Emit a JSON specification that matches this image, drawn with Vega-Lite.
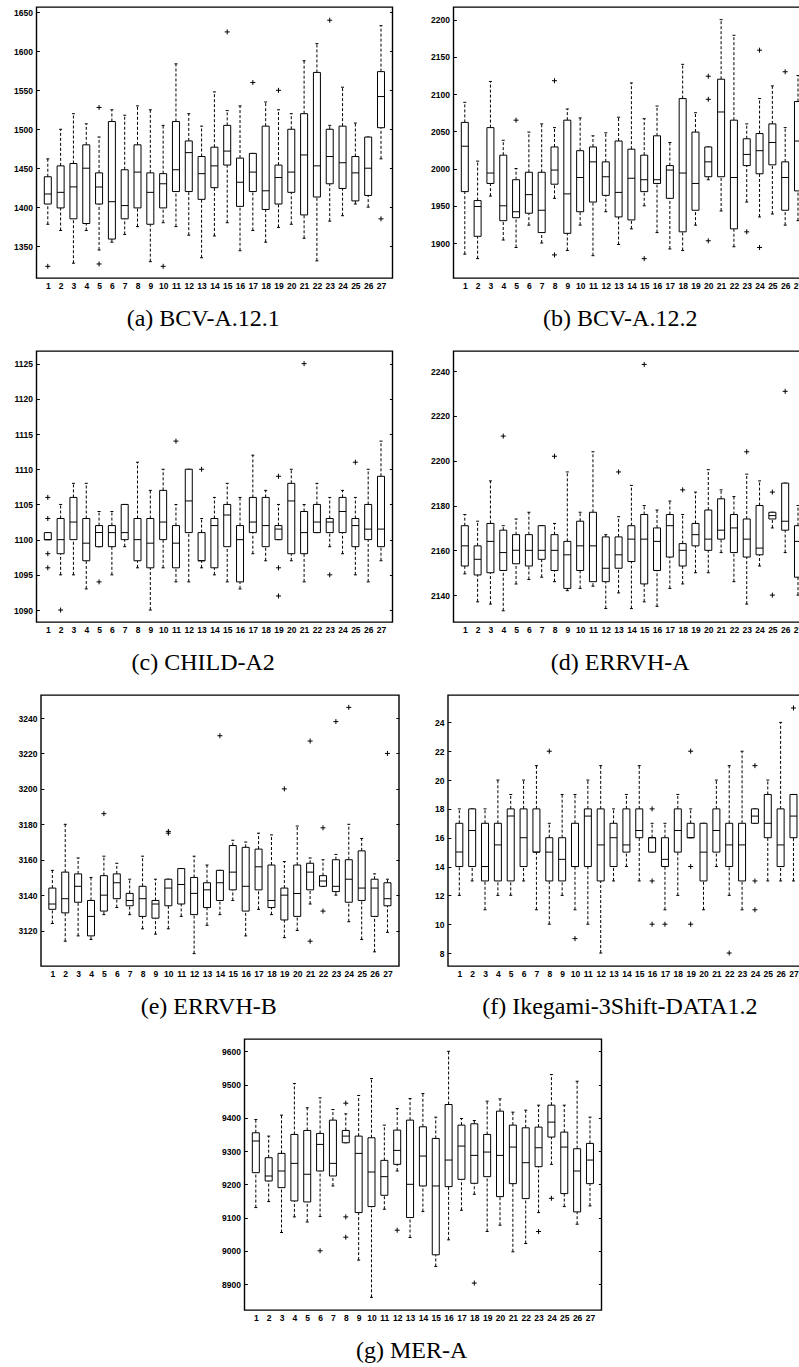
{
"$schema":"https://vega.github.io/schema/vega-lite/v6.json",
"background":"white",
"padding":{"left":12,"top":6,"right":0,"bottom":0},
"config":{
 "view":{"stroke":"#000","strokeWidth":1.4},
 "axis":{"labelFont":"Liberation Sans","labelFontWeight":"bold","labelFontSize":8.5,"labelColor":"#000","tickColor":"#000","grid":false,"domain":false}
},
"datasets":{
"a":[
{"i":1,"lo":1378,"q1":1404,"m":1417,"q3":1439,"hi":1462},
{"i":2,"lo":1370,"q1":1399,"m":1419,"q3":1453,"hi":1500},
{"i":3,"lo":1328,"q1":1385,"m":1426,"q3":1456,"hi":1520},
{"i":4,"lo":1370,"q1":1379,"m":1450,"q3":1480,"hi":1507},
{"i":5,"lo":1345,"q1":1404,"m":1426,"q3":1444,"hi":1490},
{"i":6,"lo":1355,"q1":1359,"m":1407,"q3":1510,"hi":1525},
{"i":7,"lo":1365,"q1":1385,"m":1402,"q3":1448,"hi":1518},
{"i":8,"lo":1375,"q1":1399,"m":1445,"q3":1480,"hi":1530},
{"i":9,"lo":1330,"q1":1378,"m":1419,"q3":1444,"hi":1525},
{"i":10,"lo":1380,"q1":1399,"m":1430,"q3":1443,"hi":1505},
{"i":11,"lo":1375,"q1":1420,"m":1448,"q3":1510,"hi":1584},
{"i":12,"lo":1364,"q1":1420,"m":1470,"q3":1485,"hi":1520},
{"i":13,"lo":1335,"q1":1410,"m":1443,"q3":1465,"hi":1504},
{"i":14,"lo":1363,"q1":1425,"m":1453,"q3":1477,"hi":1548},
{"i":15,"lo":1380,"q1":1454,"m":1472,"q3":1505,"hi":1524},
{"i":16,"lo":1344,"q1":1401,"m":1432,"q3":1463,"hi":1530},
{"i":17,"lo":1370,"q1":1420,"m":1445,"q3":1469,"hi":1469},
{"i":18,"lo":1355,"q1":1397,"m":1421,"q3":1504,"hi":1535},
{"i":19,"lo":1374,"q1":1404,"m":1438,"q3":1454,"hi":1525},
{"i":20,"lo":1378,"q1":1419,"m":1445,"q3":1500,"hi":1520},
{"i":21,"lo":1360,"q1":1390,"m":1467,"q3":1520,"hi":1588},
{"i":22,"lo":1331,"q1":1413,"m":1453,"q3":1573,"hi":1610},
{"i":23,"lo":1382,"q1":1430,"m":1465,"q3":1500,"hi":1505},
{"i":24,"lo":1389,"q1":1424,"m":1457,"q3":1504,"hi":1554},
{"i":25,"lo":1404,"q1":1408,"m":1444,"q3":1465,"hi":1508},
{"i":26,"lo":1400,"q1":1415,"m":1450,"q3":1490,"hi":1490},
{"i":27,"lo":1462,"q1":1502,"m":1542,"q3":1574,"hi":1633}],
"ao":[{"i":1,"v":1324},{"i":5,"v":1528},{"i":5,"v":1327},{"i":10,"v":1324},{"i":15,"v":1625},{"i":17,"v":1560},{"i":19,"v":1550},{"i":23,"v":1640},{"i":27,"v":1385}],
"b":[
{"i":1,"lo":1885,"q1":1969,"m":2030,"q3":2062,"hi":2089},
{"i":2,"lo":1879,"q1":1909,"m":1949,"q3":1957,"hi":2010},
{"i":3,"lo":1963,"q1":1980,"m":1994,"q3":2055,"hi":2117},
{"i":4,"lo":1904,"q1":1930,"m":1950,"q3":2018,"hi":2038},
{"i":5,"lo":1894,"q1":1934,"m":1942,"q3":1985,"hi":2000},
{"i":6,"lo":1924,"q1":1940,"m":1965,"q3":1995,"hi":2049},
{"i":7,"lo":1900,"q1":1914,"m":1944,"q3":1995,"hi":2060},
{"i":8,"lo":1960,"q1":1979,"m":1998,"q3":2029,"hi":2055},
{"i":9,"lo":1890,"q1":1913,"m":1966,"q3":2065,"hi":2080},
{"i":10,"lo":1924,"q1":1942,"m":1988,"q3":2024,"hi":2068},
{"i":11,"lo":1883,"q1":1955,"m":2009,"q3":2029,"hi":2044},
{"i":12,"lo":1942,"q1":1964,"m":1989,"q3":2009,"hi":2048},
{"i":13,"lo":1898,"q1":1935,"m":1968,"q3":2037,"hi":2069},
{"i":14,"lo":1919,"q1":1931,"m":1987,"q3":2026,"hi":2115},
{"i":15,"lo":1950,"q1":1969,"m":1985,"q3":2018,"hi":2067},
{"i":16,"lo":1914,"q1":1980,"m":1985,"q3":2044,"hi":2084},
{"i":17,"lo":1892,"q1":1960,"m":1998,"q3":2004,"hi":2035},
{"i":18,"lo":1890,"q1":1915,"m":1994,"q3":2094,"hi":2140},
{"i":19,"lo":1924,"q1":1944,"m":1980,"q3":2049,"hi":2075},
{"i":20,"lo":1985,"q1":1989,"m":2009,"q3":2029,"hi":2029},
{"i":21,"lo":1943,"q1":1989,"m":2076,"q3":2120,"hi":2200},
{"i":22,"lo":1895,"q1":1919,"m":1988,"q3":2065,"hi":2179},
{"i":23,"lo":1955,"q1":2004,"m":2019,"q3":2040,"hi":2060},
{"i":24,"lo":1935,"q1":1993,"m":2024,"q3":2047,"hi":2094},
{"i":25,"lo":1939,"q1":2005,"m":2035,"q3":2060,"hi":2111},
{"i":26,"lo":1924,"q1":1944,"m":1988,"q3":2009,"hi":2055},
{"i":27,"lo":1930,"q1":1970,"m":2037,"q3":2090,"hi":2125}],
"bo":[{"i":5,"v":2065},{"i":8,"v":2118},{"i":8,"v":1884},{"i":15,"v":1879},{"i":20,"v":2124},{"i":20,"v":2093},{"i":20,"v":1903},{"i":23,"v":1915},{"i":24,"v":2159},{"i":24,"v":1894},{"i":26,"v":2130}],
"c":[
{"i":1,"lo":1100,"q1":1100,"m":1100,"q3":1101,"hi":1101},
{"i":2,"lo":1095,"q1":1098,"m":1100,"q3":1103,"hi":1105},
{"i":3,"lo":1095,"q1":1100,"m":1102.5,"q3":1106,"hi":1108},
{"i":4,"lo":1093,"q1":1097,"m":1099.5,"q3":1103,"hi":1108},
{"i":5,"lo":1099,"q1":1099,"m":1101,"q3":1102,"hi":1104},
{"i":6,"lo":1095,"q1":1099,"m":1101,"q3":1102,"hi":1104},
{"i":7,"lo":1099,"q1":1100,"m":1101,"q3":1105,"hi":1105},
{"i":8,"lo":1096,"q1":1097,"m":1100,"q3":1103,"hi":1111},
{"i":9,"lo":1090,"q1":1096,"m":1099.5,"q3":1103,"hi":1107},
{"i":10,"lo":1096,"q1":1100,"m":1102.5,"q3":1107,"hi":1110},
{"i":11,"lo":1094,"q1":1096,"m":1099.5,"q3":1102,"hi":1105},
{"i":12,"lo":1094,"q1":1101,"m":1105.5,"q3":1110,"hi":1110},
{"i":13,"lo":1096,"q1":1097,"m":1097,"q3":1101,"hi":1103},
{"i":14,"lo":1095,"q1":1096,"m":1102,"q3":1103,"hi":1106},
{"i":15,"lo":1094,"q1":1099,"m":1103.5,"q3":1105,"hi":1108},
{"i":16,"lo":1093,"q1":1094,"m":1100,"q3":1102,"hi":1106},
{"i":17,"lo":1098,"q1":1101,"m":1102.5,"q3":1106,"hi":1112},
{"i":18,"lo":1097,"q1":1099,"m":1102,"q3":1106,"hi":1107},
{"i":19,"lo":1100,"q1":1100,"m":1101.5,"q3":1102,"hi":1105},
{"i":20,"lo":1097,"q1":1098,"m":1105.5,"q3":1108,"hi":1110},
{"i":21,"lo":1094,"q1":1098,"m":1101,"q3":1104,"hi":1105},
{"i":22,"lo":1101,"q1":1101,"m":1102.5,"q3":1105,"hi":1108},
{"i":23,"lo":1099,"q1":1101,"m":1102.5,"q3":1103,"hi":1106},
{"i":24,"lo":1098,"q1":1101,"m":1104,"q3":1106,"hi":1107},
{"i":25,"lo":1095,"q1":1099,"m":1102,"q3":1103,"hi":1106},
{"i":26,"lo":1094,"q1":1100,"m":1101.5,"q3":1105,"hi":1110},
{"i":27,"lo":1097,"q1":1099,"m":1101.5,"q3":1109,"hi":1114}],
"co":[{"i":1,"v":1106},{"i":1,"v":1103},{"i":1,"v":1098},{"i":1,"v":1096},{"i":2,"v":1090},{"i":5,"v":1094},{"i":11,"v":1114},{"i":13,"v":1110},{"i":19,"v":1109},{"i":19,"v":1096},{"i":19,"v":1092},{"i":21,"v":1125},{"i":23,"v":1095},{"i":25,"v":1111}],
"d":[
{"i":1,"lo":2149.5,"q1":2153,"m":2162,"q3":2171,"hi":2176},
{"i":2,"lo":2137,"q1":2149,"m":2156,"q3":2162,"hi":2173},
{"i":3,"lo":2136,"q1":2150,"m":2164,"q3":2172,"hi":2191},
{"i":4,"lo":2133,"q1":2151,"m":2159,"q3":2169,"hi":2171},
{"i":5,"lo":2145,"q1":2154,"m":2160,"q3":2167,"hi":2174},
{"i":6,"lo":2147,"q1":2153,"m":2160,"q3":2167,"hi":2177},
{"i":7,"lo":2148,"q1":2156,"m":2160,"q3":2171,"hi":2171},
{"i":8,"lo":2146,"q1":2151,"m":2160,"q3":2167,"hi":2172},
{"i":9,"lo":2142,"q1":2143,"m":2158,"q3":2164,"hi":2195},
{"i":10,"lo":2143,"q1":2151,"m":2162,"q3":2173,"hi":2177},
{"i":11,"lo":2144,"q1":2146,"m":2162,"q3":2177,"hi":2204},
{"i":12,"lo":2134,"q1":2146,"m":2152,"q3":2166,"hi":2167},
{"i":13,"lo":2141,"q1":2152,"m":2158,"q3":2166,"hi":2175},
{"i":14,"lo":2134,"q1":2155,"m":2165,"q3":2171,"hi":2189},
{"i":15,"lo":2137,"q1":2145,"m":2165,"q3":2176,"hi":2180},
{"i":16,"lo":2135,"q1":2151,"m":2164,"q3":2170,"hi":2178},
{"i":17,"lo":2143,"q1":2157,"m":2171,"q3":2176,"hi":2182},
{"i":18,"lo":2145,"q1":2153,"m":2160,"q3":2163,"hi":2176},
{"i":19,"lo":2150,"q1":2162,"m":2167,"q3":2172,"hi":2186},
{"i":20,"lo":2150,"q1":2160,"m":2165,"q3":2178,"hi":2196},
{"i":21,"lo":2159,"q1":2165,"m":2169,"q3":2183,"hi":2187},
{"i":22,"lo":2146,"q1":2159,"m":2170,"q3":2176,"hi":2184},
{"i":23,"lo":2136,"q1":2157,"m":2165,"q3":2174,"hi":2194},
{"i":24,"lo":2153,"q1":2158,"m":2161,"q3":2180,"hi":2191},
{"i":25,"lo":2170,"q1":2174,"m":2175.5,"q3":2177,"hi":2177},
{"i":26,"lo":2159,"q1":2169,"m":2173,"q3":2190,"hi":2190},
{"i":27,"lo":2140,"q1":2148,"m":2164,"q3":2171,"hi":2180}],
"do":[{"i":4,"v":2211},{"i":8,"v":2202},{"i":13,"v":2195},{"i":15,"v":2243},{"i":18,"v":2187},{"i":23,"v":2204},{"i":25,"v":2186},{"i":25,"v":2140},{"i":26,"v":2231}],
"e":[
{"i":1,"lo":3124,"q1":3132,"m":3135,"q3":3144,"hi":3154},
{"i":2,"lo":3114,"q1":3130,"m":3138,"q3":3153,"hi":3180},
{"i":3,"lo":3117,"q1":3136,"m":3145,"q3":3152,"hi":3161},
{"i":4,"lo":3115,"q1":3117,"m":3128,"q3":3137,"hi":3150},
{"i":5,"lo":3129,"q1":3131,"m":3140,"q3":3151,"hi":3162},
{"i":6,"lo":3133,"q1":3138,"m":3147,"q3":3152,"hi":3158},
{"i":7,"lo":3129,"q1":3134,"m":3137,"q3":3141,"hi":3149},
{"i":8,"lo":3121,"q1":3128,"m":3138,"q3":3145,"hi":3162},
{"i":9,"lo":3118,"q1":3127,"m":3135,"q3":3137,"hi":3149},
{"i":10,"lo":3121,"q1":3134,"m":3144,"q3":3149,"hi":3149},
{"i":11,"lo":3128,"q1":3135,"m":3146,"q3":3155,"hi":3155},
{"i":12,"lo":3107,"q1":3129,"m":3141,"q3":3150,"hi":3162},
{"i":13,"lo":3123,"q1":3133,"m":3143,"q3":3147,"hi":3157},
{"i":14,"lo":3129,"q1":3137,"m":3147,"q3":3154,"hi":3154},
{"i":15,"lo":3137,"q1":3143,"m":3153,"q3":3168,"hi":3171},
{"i":16,"lo":3117,"q1":3131,"m":3145,"q3":3167,"hi":3170},
{"i":17,"lo":3132,"q1":3143,"m":3156,"q3":3166,"hi":3175},
{"i":18,"lo":3129,"q1":3133,"m":3137,"q3":3157,"hi":3174},
{"i":19,"lo":3116,"q1":3126,"m":3140,"q3":3144,"hi":3159},
{"i":20,"lo":3120,"q1":3128,"m":3141,"q3":3157,"hi":3179},
{"i":21,"lo":3135,"q1":3143,"m":3153,"q3":3158,"hi":3161},
{"i":22,"lo":3145,"q1":3145,"m":3148,"q3":3151,"hi":3160},
{"i":23,"lo":3140,"q1":3142,"m":3145,"q3":3160,"hi":3163},
{"i":24,"lo":3125,"q1":3136,"m":3149,"q3":3160,"hi":3180},
{"i":25,"lo":3115,"q1":3137,"m":3144,"q3":3165,"hi":3172},
{"i":26,"lo":3108,"q1":3128,"m":3144,"q3":3149,"hi":3152},
{"i":27,"lo":3119,"q1":3134,"m":3138,"q3":3147,"hi":3149}],
"eo":[{"i":5,"v":3186},{"i":10,"v":3176},{"i":10,"v":3175},{"i":14,"v":3230},{"i":19,"v":3200},{"i":21,"v":3227},{"i":21,"v":3114},{"i":22,"v":3178},{"i":22,"v":3131},{"i":23,"v":3238},{"i":24,"v":3246},{"i":27,"v":3220}],
"f":[
{"i":1,"lo":12,"q1":14,"m":15,"q3":17,"hi":18},
{"i":2,"lo":13,"q1":14,"m":16.5,"q3":18,"hi":18},
{"i":3,"lo":11,"q1":13,"m":14,"q3":17,"hi":18},
{"i":4,"lo":12,"q1":13,"m":15.5,"q3":17,"hi":20},
{"i":5,"lo":12,"q1":13,"m":17.5,"q3":18,"hi":19},
{"i":6,"lo":13,"q1":14,"m":16,"q3":18,"hi":20},
{"i":7,"lo":11,"q1":15,"m":15,"q3":18,"hi":21},
{"i":8,"lo":10,"q1":13,"m":15,"q3":16,"hi":17},
{"i":9,"lo":12,"q1":13,"m":14.5,"q3":16,"hi":19},
{"i":10,"lo":11,"q1":14,"m":14,"q3":17,"hi":19},
{"i":11,"lo":10,"q1":14,"m":17.5,"q3":18,"hi":20},
{"i":12,"lo":8,"q1":13,"m":15.5,"q3":18,"hi":21},
{"i":13,"lo":13,"q1":14,"m":16,"q3":17,"hi":18},
{"i":14,"lo":14,"q1":15,"m":15.5,"q3":18,"hi":19},
{"i":15,"lo":13,"q1":16,"m":16.5,"q3":18,"hi":21},
{"i":16,"lo":15,"q1":15,"m":16,"q3":16,"hi":17},
{"i":17,"lo":11,"q1":14,"m":14.5,"q3":16,"hi":17},
{"i":18,"lo":12,"q1":15,"m":16.5,"q3":18,"hi":19},
{"i":19,"lo":16,"q1":16,"m":16,"q3":17,"hi":18},
{"i":20,"lo":11,"q1":13,"m":15,"q3":17,"hi":17},
{"i":21,"lo":14,"q1":15,"m":16.5,"q3":18,"hi":20},
{"i":22,"lo":12,"q1":14,"m":15.5,"q3":17,"hi":21},
{"i":23,"lo":11,"q1":13,"m":15.5,"q3":17,"hi":22},
{"i":24,"lo":17,"q1":17,"m":17.5,"q3":18,"hi":18},
{"i":25,"lo":13,"q1":16,"m":17,"q3":19,"hi":20},
{"i":26,"lo":13,"q1":14,"m":15.5,"q3":18,"hi":24},
{"i":27,"lo":13,"q1":16,"m":17.5,"q3":19,"hi":19}],
"fo":[{"i":8,"v":22},{"i":10,"v":9},{"i":16,"v":18},{"i":16,"v":13},{"i":16,"v":10},{"i":17,"v":10},{"i":19,"v":22},{"i":19,"v":14},{"i":19,"v":10},{"i":22,"v":8},{"i":24,"v":21},{"i":24,"v":13},{"i":24,"v":11},{"i":27,"v":25}],
"g":[
{"i":1,"lo":9130,"q1":9235,"m":9330,"q3":9355,"hi":9395},
{"i":2,"lo":9148,"q1":9210,"m":9225,"q3":9280,"hi":9345},
{"i":3,"lo":9055,"q1":9190,"m":9240,"q3":9293,"hi":9408},
{"i":4,"lo":9102,"q1":9150,"m":9263,"q3":9350,"hi":9503},
{"i":5,"lo":9087,"q1":9147,"m":9230,"q3":9362,"hi":9430},
{"i":6,"lo":9103,"q1":9240,"m":9320,"q3":9353,"hi":9460},
{"i":7,"lo":9195,"q1":9225,"m":9263,"q3":9393,"hi":9425},
{"i":8,"lo":9325,"q1":9325,"m":9345,"q3":9362,"hi":9412},
{"i":9,"lo":8972,"q1":9115,"m":9293,"q3":9345,"hi":9467},
{"i":10,"lo":8860,"q1":9133,"m":9237,"q3":9340,"hi":9518},
{"i":11,"lo":9125,"q1":9167,"m":9223,"q3":9272,"hi":9378},
{"i":12,"lo":9240,"q1":9260,"m":9302,"q3":9363,"hi":9428},
{"i":13,"lo":9040,"q1":9100,"m":9200,"q3":9393,"hi":9458},
{"i":14,"lo":9118,"q1":9195,"m":9285,"q3":9373,"hi":9473},
{"i":15,"lo":8953,"q1":8988,"m":9195,"q3":9338,"hi":9402},
{"i":16,"lo":9033,"q1":9193,"m":9273,"q3":9440,"hi":9600},
{"i":17,"lo":9122,"q1":9215,"m":9315,"q3":9378,"hi":9398},
{"i":18,"lo":9170,"q1":9203,"m":9287,"q3":9382,"hi":9392},
{"i":19,"lo":9058,"q1":9223,"m":9297,"q3":9350,"hi":9450},
{"i":20,"lo":9077,"q1":9163,"m":9287,"q3":9420,"hi":9457},
{"i":21,"lo":8997,"q1":9202,"m":9312,"q3":9378,"hi":9417},
{"i":22,"lo":9022,"q1":9157,"m":9265,"q3":9370,"hi":9423},
{"i":23,"lo":9115,"q1":9253,"m":9310,"q3":9372,"hi":9438},
{"i":24,"lo":9260,"q1":9342,"m":9387,"q3":9438,"hi":9530},
{"i":25,"lo":9133,"q1":9172,"m":9312,"q3":9357,"hi":9438},
{"i":26,"lo":9080,"q1":9117,"m":9240,"q3":9307,"hi":9510},
{"i":27,"lo":9135,"q1":9202,"m":9273,"q3":9323,"hi":9402}],
"go":[{"i":6,"v":9000},{"i":8,"v":9444},{"i":8,"v":9102},{"i":8,"v":9041},{"i":12,"v":9062},{"i":18,"v":8903},{"i":23,"v":9058},{"i":24,"v":9158}]
},
"vconcat":[
{"hconcat":[
{"width":356,"height":271,
"title":{"text":"(a) BCV-A.12.1","orient":"bottom","font":"Liberation Serif","fontSize":24,"fontWeight":"normal","anchor":"middle","frame":"bounds","offset":17,"color":"#000"},
"encoding":{"x":{"field":"i","type":"quantitative","scale":{"domain":[0.5,27.5],"nice":false,"zero":false},"axis":{"values":[1,2,3,4,5,6,7,8,9,10,11,12,13,14,15,16,17,18,19,20,21,22,23,24,25,26,27],"ticks":false,"labelPadding":3,"labelOverlap":false,"labelFlush":false,"title":null,"format":"d"}}},
"layer":[
{"data":{"name":"a"},"mark":{"type":"rule","strokeDash":[3,2],"color":"#000"},"encoding":{"y":{"field":"lo","type":"quantitative","scale":{"domain":[1309,1657],"nice":false,"zero":false},"axis":{"orient":"left","values":[1350,1400,1450,1500,1550,1600,1650],"format":"d","tickSize":-3,"labelPadding":7,"title":null}},"y2":{"field":"q1"}}},
{"data":{"name":"a"},"mark":{"type":"rule","strokeDash":[3,2],"color":"#000"},"encoding":{"y":{"field":"q3","type":"quantitative","scale":{"domain":[1309,1657],"nice":false,"zero":false},"axis":{"orient":"right","values":[1350,1400,1450,1500,1550,1600,1650],"tickSize":-3,"labels":false,"title":null}},"y2":{"field":"hi"}}},
{"data":{"name":"a"},"mark":{"type":"tick","orient":"horizontal","size":3,"thickness":1,"color":"#000","opacity":1},"encoding":{"y":{"field":"lo","type":"quantitative","scale":{"domain":[1309,1657],"nice":false,"zero":false},"axis":null}}},
{"data":{"name":"a"},"mark":{"type":"tick","orient":"horizontal","size":3,"thickness":1,"color":"#000","opacity":1},"encoding":{"y":{"field":"hi","type":"quantitative","scale":{"domain":[1309,1657],"nice":false,"zero":false},"axis":null}}},
{"data":{"name":"a"},"mark":{"type":"bar","width":7,"fill":"#fff","stroke":"#000","strokeWidth":1},"encoding":{"y":{"field":"q1","type":"quantitative","scale":{"domain":[1309,1657],"nice":false,"zero":false},"axis":null},"y2":{"field":"q3"}}},
{"data":{"name":"a"},"mark":{"type":"tick","orient":"horizontal","size":7,"thickness":1,"color":"#000","opacity":1},"encoding":{"y":{"field":"m","type":"quantitative","scale":{"domain":[1309,1657],"nice":false,"zero":false},"axis":null}}},
{"data":{"name":"ao"},"mark":{"type":"point","shape":"M-1,0H1M0,-1V1","size":25,"strokeWidth":1,"opacity":1,"color":"#000","filled":false},"encoding":{"y":{"field":"v","type":"quantitative","scale":{"domain":[1309,1657],"nice":false,"zero":false},"axis":null}}}
],
"resolve":{"axis":{"y":"independent"}}},
{"width":356,"height":271,
"title":{"text":"(b) BCV-A.12.2","orient":"bottom","font":"Liberation Serif","fontSize":24,"fontWeight":"normal","anchor":"middle","frame":"bounds","offset":17,"color":"#000"},
"encoding":{"x":{"field":"i","type":"quantitative","scale":{"domain":[0.5,27.5],"nice":false,"zero":false},"axis":{"values":[1,2,3,4,5,6,7,8,9,10,11,12,13,14,15,16,17,18,19,20,21,22,23,24,25,26,27],"ticks":false,"labelPadding":3,"labelOverlap":false,"labelFlush":false,"title":null,"format":"d"}}},
"layer":[
{"data":{"name":"b"},"mark":{"type":"rule","strokeDash":[3,2],"color":"#000"},"encoding":{"y":{"field":"lo","type":"quantitative","scale":{"domain":[1853,2217],"nice":false,"zero":false},"axis":{"orient":"left","values":[1900,1950,2000,2050,2100,2150,2200],"format":"d","tickSize":-3,"labelPadding":7,"title":null}},"y2":{"field":"q1"}}},
{"data":{"name":"b"},"mark":{"type":"rule","strokeDash":[3,2],"color":"#000"},"encoding":{"y":{"field":"q3","type":"quantitative","scale":{"domain":[1853,2217],"nice":false,"zero":false},"axis":{"orient":"right","values":[1900,1950,2000,2050,2100,2150,2200],"tickSize":-3,"labels":false,"title":null}},"y2":{"field":"hi"}}},
{"data":{"name":"b"},"mark":{"type":"tick","orient":"horizontal","size":3,"thickness":1,"color":"#000","opacity":1},"encoding":{"y":{"field":"lo","type":"quantitative","scale":{"domain":[1853,2217],"nice":false,"zero":false},"axis":null}}},
{"data":{"name":"b"},"mark":{"type":"tick","orient":"horizontal","size":3,"thickness":1,"color":"#000","opacity":1},"encoding":{"y":{"field":"hi","type":"quantitative","scale":{"domain":[1853,2217],"nice":false,"zero":false},"axis":null}}},
{"data":{"name":"b"},"mark":{"type":"bar","width":7,"fill":"#fff","stroke":"#000","strokeWidth":1},"encoding":{"y":{"field":"q1","type":"quantitative","scale":{"domain":[1853,2217],"nice":false,"zero":false},"axis":null},"y2":{"field":"q3"}}},
{"data":{"name":"b"},"mark":{"type":"tick","orient":"horizontal","size":7,"thickness":1,"color":"#000","opacity":1},"encoding":{"y":{"field":"m","type":"quantitative","scale":{"domain":[1853,2217],"nice":false,"zero":false},"axis":null}}},
{"data":{"name":"bo"},"mark":{"type":"point","shape":"M-1,0H1M0,-1V1","size":25,"strokeWidth":1,"opacity":1,"color":"#000","filled":false},"encoding":{"y":{"field":"v","type":"quantitative","scale":{"domain":[1853,2217],"nice":false,"zero":false},"axis":null}}}
],
"resolve":{"axis":{"y":"independent"}}}
],"spacing":35},
{"hconcat":[
{"width":356,"height":271,
"title":{"text":"(c) CHILD-A2","orient":"bottom","font":"Liberation Serif","fontSize":24,"fontWeight":"normal","anchor":"middle","frame":"bounds","offset":17,"color":"#000"},
"encoding":{"x":{"field":"i","type":"quantitative","scale":{"domain":[0.5,27.5],"nice":false,"zero":false},"axis":{"values":[1,2,3,4,5,6,7,8,9,10,11,12,13,14,15,16,17,18,19,20,21,22,23,24,25,26,27],"ticks":false,"labelPadding":3,"labelOverlap":false,"labelFlush":false,"title":null,"format":"d"}}},
"layer":[
{"data":{"name":"c"},"mark":{"type":"rule","strokeDash":[3,2],"color":"#000"},"encoding":{"y":{"field":"lo","type":"quantitative","scale":{"domain":[1088.3,1126.8],"nice":false,"zero":false},"axis":{"orient":"left","values":[1090,1095,1100,1105,1110,1115,1120,1125],"format":"d","tickSize":-3,"labelPadding":7,"title":null}},"y2":{"field":"q1"}}},
{"data":{"name":"c"},"mark":{"type":"rule","strokeDash":[3,2],"color":"#000"},"encoding":{"y":{"field":"q3","type":"quantitative","scale":{"domain":[1088.3,1126.8],"nice":false,"zero":false},"axis":{"orient":"right","values":[1090,1095,1100,1105,1110,1115,1120,1125],"tickSize":-3,"labels":false,"title":null}},"y2":{"field":"hi"}}},
{"data":{"name":"c"},"mark":{"type":"tick","orient":"horizontal","size":3,"thickness":1,"color":"#000","opacity":1},"encoding":{"y":{"field":"lo","type":"quantitative","scale":{"domain":[1088.3,1126.8],"nice":false,"zero":false},"axis":null}}},
{"data":{"name":"c"},"mark":{"type":"tick","orient":"horizontal","size":3,"thickness":1,"color":"#000","opacity":1},"encoding":{"y":{"field":"hi","type":"quantitative","scale":{"domain":[1088.3,1126.8],"nice":false,"zero":false},"axis":null}}},
{"data":{"name":"c"},"mark":{"type":"bar","width":7,"fill":"#fff","stroke":"#000","strokeWidth":1},"encoding":{"y":{"field":"q1","type":"quantitative","scale":{"domain":[1088.3,1126.8],"nice":false,"zero":false},"axis":null},"y2":{"field":"q3"}}},
{"data":{"name":"c"},"mark":{"type":"tick","orient":"horizontal","size":7,"thickness":1,"color":"#000","opacity":1},"encoding":{"y":{"field":"m","type":"quantitative","scale":{"domain":[1088.3,1126.8],"nice":false,"zero":false},"axis":null}}},
{"data":{"name":"co"},"mark":{"type":"point","shape":"M-1,0H1M0,-1V1","size":25,"strokeWidth":1,"opacity":1,"color":"#000","filled":false},"encoding":{"y":{"field":"v","type":"quantitative","scale":{"domain":[1088.3,1126.8],"nice":false,"zero":false},"axis":null}}}
],
"resolve":{"axis":{"y":"independent"}}},
{"width":356,"height":271,
"title":{"text":"(d) ERRVH-A","orient":"bottom","font":"Liberation Serif","fontSize":24,"fontWeight":"normal","anchor":"middle","frame":"bounds","offset":17,"color":"#000"},
"encoding":{"x":{"field":"i","type":"quantitative","scale":{"domain":[0.5,27.5],"nice":false,"zero":false},"axis":{"values":[1,2,3,4,5,6,7,8,9,10,11,12,13,14,15,16,17,18,19,20,21,22,23,24,25,26,27],"ticks":false,"labelPadding":3,"labelOverlap":false,"labelFlush":false,"title":null,"format":"d"}}},
"layer":[
{"data":{"name":"d"},"mark":{"type":"rule","strokeDash":[3,2],"color":"#000"},"encoding":{"y":{"field":"lo","type":"quantitative","scale":{"domain":[2128,2249],"nice":false,"zero":false},"axis":{"orient":"left","values":[2140,2160,2180,2200,2220,2240],"format":"d","tickSize":-3,"labelPadding":7,"title":null}},"y2":{"field":"q1"}}},
{"data":{"name":"d"},"mark":{"type":"rule","strokeDash":[3,2],"color":"#000"},"encoding":{"y":{"field":"q3","type":"quantitative","scale":{"domain":[2128,2249],"nice":false,"zero":false},"axis":{"orient":"right","values":[2140,2160,2180,2200,2220,2240],"tickSize":-3,"labels":false,"title":null}},"y2":{"field":"hi"}}},
{"data":{"name":"d"},"mark":{"type":"tick","orient":"horizontal","size":3,"thickness":1,"color":"#000","opacity":1},"encoding":{"y":{"field":"lo","type":"quantitative","scale":{"domain":[2128,2249],"nice":false,"zero":false},"axis":null}}},
{"data":{"name":"d"},"mark":{"type":"tick","orient":"horizontal","size":3,"thickness":1,"color":"#000","opacity":1},"encoding":{"y":{"field":"hi","type":"quantitative","scale":{"domain":[2128,2249],"nice":false,"zero":false},"axis":null}}},
{"data":{"name":"d"},"mark":{"type":"bar","width":7,"fill":"#fff","stroke":"#000","strokeWidth":1},"encoding":{"y":{"field":"q1","type":"quantitative","scale":{"domain":[2128,2249],"nice":false,"zero":false},"axis":null},"y2":{"field":"q3"}}},
{"data":{"name":"d"},"mark":{"type":"tick","orient":"horizontal","size":7,"thickness":1,"color":"#000","opacity":1},"encoding":{"y":{"field":"m","type":"quantitative","scale":{"domain":[2128,2249],"nice":false,"zero":false},"axis":null}}},
{"data":{"name":"do"},"mark":{"type":"point","shape":"M-1,0H1M0,-1V1","size":25,"strokeWidth":1,"opacity":1,"color":"#000","filled":false},"encoding":{"y":{"field":"v","type":"quantitative","scale":{"domain":[2128,2249],"nice":false,"zero":false},"axis":null}}}
],
"resolve":{"axis":{"y":"independent"}}}
],"spacing":35},
{"hconcat":[
{"width":358,"height":271,
"title":{"text":"(e) ERRVH-B","orient":"bottom","font":"Liberation Serif","fontSize":24,"fontWeight":"normal","anchor":"middle","frame":"bounds","offset":17,"color":"#000"},
"encoding":{"x":{"field":"i","type":"quantitative","scale":{"domain":[0.5,27.5],"nice":false,"zero":false},"axis":{"values":[1,2,3,4,5,6,7,8,9,10,11,12,13,14,15,16,17,18,19,20,21,22,23,24,25,26,27],"ticks":false,"labelPadding":3,"labelOverlap":false,"labelFlush":false,"title":null,"format":"d"}}},
"layer":[
{"data":{"name":"e"},"mark":{"type":"rule","strokeDash":[3,2],"color":"#000"},"encoding":{"y":{"field":"lo","type":"quantitative","scale":{"domain":[3100,3253],"nice":false,"zero":false},"axis":{"orient":"left","values":[3120,3140,3160,3180,3200,3220,3240],"format":"d","tickSize":-3,"labelPadding":7,"title":null}},"y2":{"field":"q1"}}},
{"data":{"name":"e"},"mark":{"type":"rule","strokeDash":[3,2],"color":"#000"},"encoding":{"y":{"field":"q3","type":"quantitative","scale":{"domain":[3100,3253],"nice":false,"zero":false},"axis":{"orient":"right","values":[3120,3140,3160,3180,3200,3220,3240],"tickSize":-3,"labels":false,"title":null}},"y2":{"field":"hi"}}},
{"data":{"name":"e"},"mark":{"type":"tick","orient":"horizontal","size":3,"thickness":1,"color":"#000","opacity":1},"encoding":{"y":{"field":"lo","type":"quantitative","scale":{"domain":[3100,3253],"nice":false,"zero":false},"axis":null}}},
{"data":{"name":"e"},"mark":{"type":"tick","orient":"horizontal","size":3,"thickness":1,"color":"#000","opacity":1},"encoding":{"y":{"field":"hi","type":"quantitative","scale":{"domain":[3100,3253],"nice":false,"zero":false},"axis":null}}},
{"data":{"name":"e"},"mark":{"type":"bar","width":7,"fill":"#fff","stroke":"#000","strokeWidth":1},"encoding":{"y":{"field":"q1","type":"quantitative","scale":{"domain":[3100,3253],"nice":false,"zero":false},"axis":null},"y2":{"field":"q3"}}},
{"data":{"name":"e"},"mark":{"type":"tick","orient":"horizontal","size":7,"thickness":1,"color":"#000","opacity":1},"encoding":{"y":{"field":"m","type":"quantitative","scale":{"domain":[3100,3253],"nice":false,"zero":false},"axis":null}}},
{"data":{"name":"eo"},"mark":{"type":"point","shape":"M-1,0H1M0,-1V1","size":25,"strokeWidth":1,"opacity":1,"color":"#000","filled":false},"encoding":{"y":{"field":"v","type":"quantitative","scale":{"domain":[3100,3253],"nice":false,"zero":false},"axis":null}}}
],
"resolve":{"axis":{"y":"independent"}}},
{"width":357,"height":271,
"title":{"text":"(f) Ikegami-3Shift-DATA1.2","orient":"bottom","font":"Liberation Serif","fontSize":24,"fontWeight":"normal","anchor":"middle","frame":"bounds","offset":17,"color":"#000"},
"encoding":{"x":{"field":"i","type":"quantitative","scale":{"domain":[0.5,27.5],"nice":false,"zero":false},"axis":{"values":[1,2,3,4,5,6,7,8,9,10,11,12,13,14,15,16,17,18,19,20,21,22,23,24,25,26,27],"ticks":false,"labelPadding":3,"labelOverlap":false,"labelFlush":false,"title":null,"format":"d"}}},
"layer":[
{"data":{"name":"f"},"mark":{"type":"rule","strokeDash":[3,2],"color":"#000"},"encoding":{"y":{"field":"lo","type":"quantitative","scale":{"domain":[7.1,25.9],"nice":false,"zero":false},"axis":{"orient":"left","values":[8,10,12,14,16,18,20,22,24],"format":"d","tickSize":-3,"labelPadding":7,"title":null}},"y2":{"field":"q1"}}},
{"data":{"name":"f"},"mark":{"type":"rule","strokeDash":[3,2],"color":"#000"},"encoding":{"y":{"field":"q3","type":"quantitative","scale":{"domain":[7.1,25.9],"nice":false,"zero":false},"axis":{"orient":"right","values":[8,10,12,14,16,18,20,22,24],"tickSize":-3,"labels":false,"title":null}},"y2":{"field":"hi"}}},
{"data":{"name":"f"},"mark":{"type":"tick","orient":"horizontal","size":3,"thickness":1,"color":"#000","opacity":1},"encoding":{"y":{"field":"lo","type":"quantitative","scale":{"domain":[7.1,25.9],"nice":false,"zero":false},"axis":null}}},
{"data":{"name":"f"},"mark":{"type":"tick","orient":"horizontal","size":3,"thickness":1,"color":"#000","opacity":1},"encoding":{"y":{"field":"hi","type":"quantitative","scale":{"domain":[7.1,25.9],"nice":false,"zero":false},"axis":null}}},
{"data":{"name":"f"},"mark":{"type":"bar","width":7,"fill":"#fff","stroke":"#000","strokeWidth":1},"encoding":{"y":{"field":"q1","type":"quantitative","scale":{"domain":[7.1,25.9],"nice":false,"zero":false},"axis":null},"y2":{"field":"q3"}}},
{"data":{"name":"f"},"mark":{"type":"tick","orient":"horizontal","size":7,"thickness":1,"color":"#000","opacity":1},"encoding":{"y":{"field":"m","type":"quantitative","scale":{"domain":[7.1,25.9],"nice":false,"zero":false},"axis":null}}},
{"data":{"name":"fo"},"mark":{"type":"point","shape":"M-1,0H1M0,-1V1","size":25,"strokeWidth":1,"opacity":1,"color":"#000","filled":false},"encoding":{"y":{"field":"v","type":"quantitative","scale":{"domain":[7.1,25.9],"nice":false,"zero":false},"axis":null}}}
],
"resolve":{"axis":{"y":"independent"}}}
],"spacing":32},
{"width":357,"height":271,
"title":{"text":"(g) MER-A","orient":"bottom","font":"Liberation Serif","fontSize":24,"fontWeight":"normal","anchor":"middle","frame":"bounds","offset":17,"color":"#000"},
"encoding":{"x":{"field":"i","type":"quantitative","scale":{"domain":[0.5,27.5],"nice":false,"zero":false},"axis":{"values":[1,2,3,4,5,6,7,8,9,10,11,12,13,14,15,16,17,18,19,20,21,22,23,24,25,26,27],"ticks":false,"labelPadding":3,"labelOverlap":false,"labelFlush":false,"title":null,"format":"d"}}},
"layer":[
{"data":{"name":"g"},"mark":{"type":"rule","strokeDash":[3,2],"color":"#000"},"encoding":{"y":{"field":"lo","type":"quantitative","scale":{"domain":[8822,9637],"nice":false,"zero":false},"axis":{"orient":"left","values":[8900,9000,9100,9200,9300,9400,9500,9600],"format":"d","tickSize":-3,"labelPadding":7,"title":null}},"y2":{"field":"q1"}}},
{"data":{"name":"g"},"mark":{"type":"rule","strokeDash":[3,2],"color":"#000"},"encoding":{"y":{"field":"q3","type":"quantitative","scale":{"domain":[8822,9637],"nice":false,"zero":false},"axis":{"orient":"right","values":[8900,9000,9100,9200,9300,9400,9500,9600],"tickSize":-3,"labels":false,"title":null}},"y2":{"field":"hi"}}},
{"data":{"name":"g"},"mark":{"type":"tick","orient":"horizontal","size":3,"thickness":1,"color":"#000","opacity":1},"encoding":{"y":{"field":"lo","type":"quantitative","scale":{"domain":[8822,9637],"nice":false,"zero":false},"axis":null}}},
{"data":{"name":"g"},"mark":{"type":"tick","orient":"horizontal","size":3,"thickness":1,"color":"#000","opacity":1},"encoding":{"y":{"field":"hi","type":"quantitative","scale":{"domain":[8822,9637],"nice":false,"zero":false},"axis":null}}},
{"data":{"name":"g"},"mark":{"type":"bar","width":7,"fill":"#fff","stroke":"#000","strokeWidth":1},"encoding":{"y":{"field":"q1","type":"quantitative","scale":{"domain":[8822,9637],"nice":false,"zero":false},"axis":null},"y2":{"field":"q3"}}},
{"data":{"name":"g"},"mark":{"type":"tick","orient":"horizontal","size":7,"thickness":1,"color":"#000","opacity":1},"encoding":{"y":{"field":"m","type":"quantitative","scale":{"domain":[8822,9637],"nice":false,"zero":false},"axis":null}}},
{"data":{"name":"go"},"mark":{"type":"point","shape":"M-1,0H1M0,-1V1","size":25,"strokeWidth":1,"opacity":1,"color":"#000","filled":false},"encoding":{"y":{"field":"v","type":"quantitative","scale":{"domain":[8822,9637],"nice":false,"zero":false},"axis":null}}}
],
"resolve":{"axis":{"y":"independent"}}}
],
"spacing":18,
"center":true
}
